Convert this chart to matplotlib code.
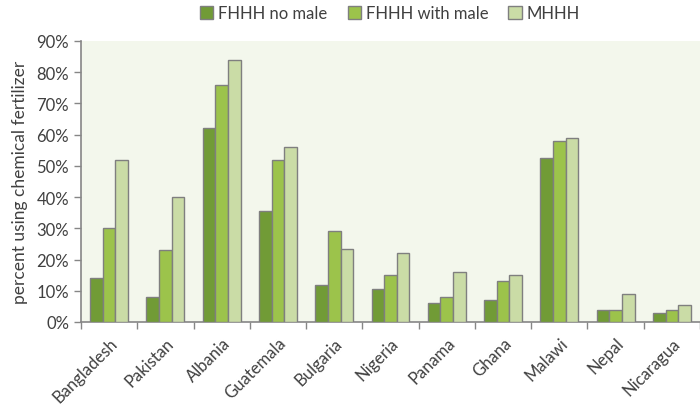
import matplotlib
matplotlib.use("Agg")
import matplotlib.pyplot as plt
import matplotlib.transforms as mtransforms
import numpy as np
from matplotlib.ticker import PercentFormatter

countries = ["Bangladesh", "Pakistan", "Albania", "Guatemala", "Bulgaria", "Nigeria",
             "Panama", "Ghana", "Malawi", "Nepal", "Nicaragua"]
fhhh_no_male = [14, 8, 62, 35.5, 12, 10.5, 6, 7, 52.5, 4, 3]
fhhh_with_male = [30, 23, 76, 52, 29, 15, 8, 13, 58, 4, 4]
mhhh = [52, 40, 84, 56, 23.5, 22, 16, 15, 59, 9, 5.5]
series_names = ["FHHH no male", "FHHH with male", "MHHH"]
colors = ["#719B36", "#9CC34B", "#CADCA6"]

plt.rcParams['font.family'] = ['Lato', 'DejaVu Sans']

fig = plt.figure(figsize=(7, 4.06), dpi=100)
fig.patch.set_facecolor("white")
ax = fig.add_axes([81/700, 83/406, 1 - 81/700, (323-42)/406])
ax.set_facecolor("#F3F7EC")

x = np.arange(len(countries))
w = 0.225
for i, (vals, name, c) in enumerate(zip([fhhh_no_male, fhhh_with_male, mhhh], series_names, colors)):
    ax.bar(x + (i - 1) * w, vals, w, color=c, edgecolor="#7F7F7F", linewidth=1.0,
           label=name, zorder=3)

ax.set_ylim(0, 90)
ax.set_xlim(-0.5, 10.5 - 12/57.4)
ax.set_yticks(np.arange(0, 91, 10))
ax.yaxis.set_major_formatter(PercentFormatter(decimals=0))
ax.tick_params(axis='y', labelsize=12, colors="#404040", length=5, width=1, direction='out', color="#868686")
ax.set_xticks(x)
ax.set_xticklabels(countries, rotation=45, ha='right', rotation_mode='anchor', fontsize=12, color="#404040")
offset = mtransforms.ScaledTranslation(6/100, 0, fig.dpi_scale_trans)
for lbl in ax.get_xticklabels():
    lbl.set_transform(lbl.get_transform() + offset)
ax.set_xticks(np.arange(-0.5, 11, 1), minor=True)
ax.tick_params(axis='x', which='major', length=0, pad=9)
ax.tick_params(axis='x', which='minor', length=5, width=1, color="#868686", direction='out')
for s in ["top", "right"]:
    ax.spines[s].set_visible(False)
for s in ["left", "bottom"]:
    ax.spines[s].set_color("#868686")
    ax.spines[s].set_linewidth(1.2)

ax.set_ylabel("percent using chemical fertilizer", fontsize=12.5, color="#404040", labelpad=6)

leg = fig.legend(loc="center", bbox_to_anchor=(390/700, 1 - 14/406), ncol=3, frameon=False,
                 fontsize=12, handlelength=0.8, handleheight=0.8, handletextpad=0.3,
                 columnspacing=1.2, labelcolor="#404040")

fig.savefig("out.png", dpi=100, facecolor=fig.get_facecolor())
